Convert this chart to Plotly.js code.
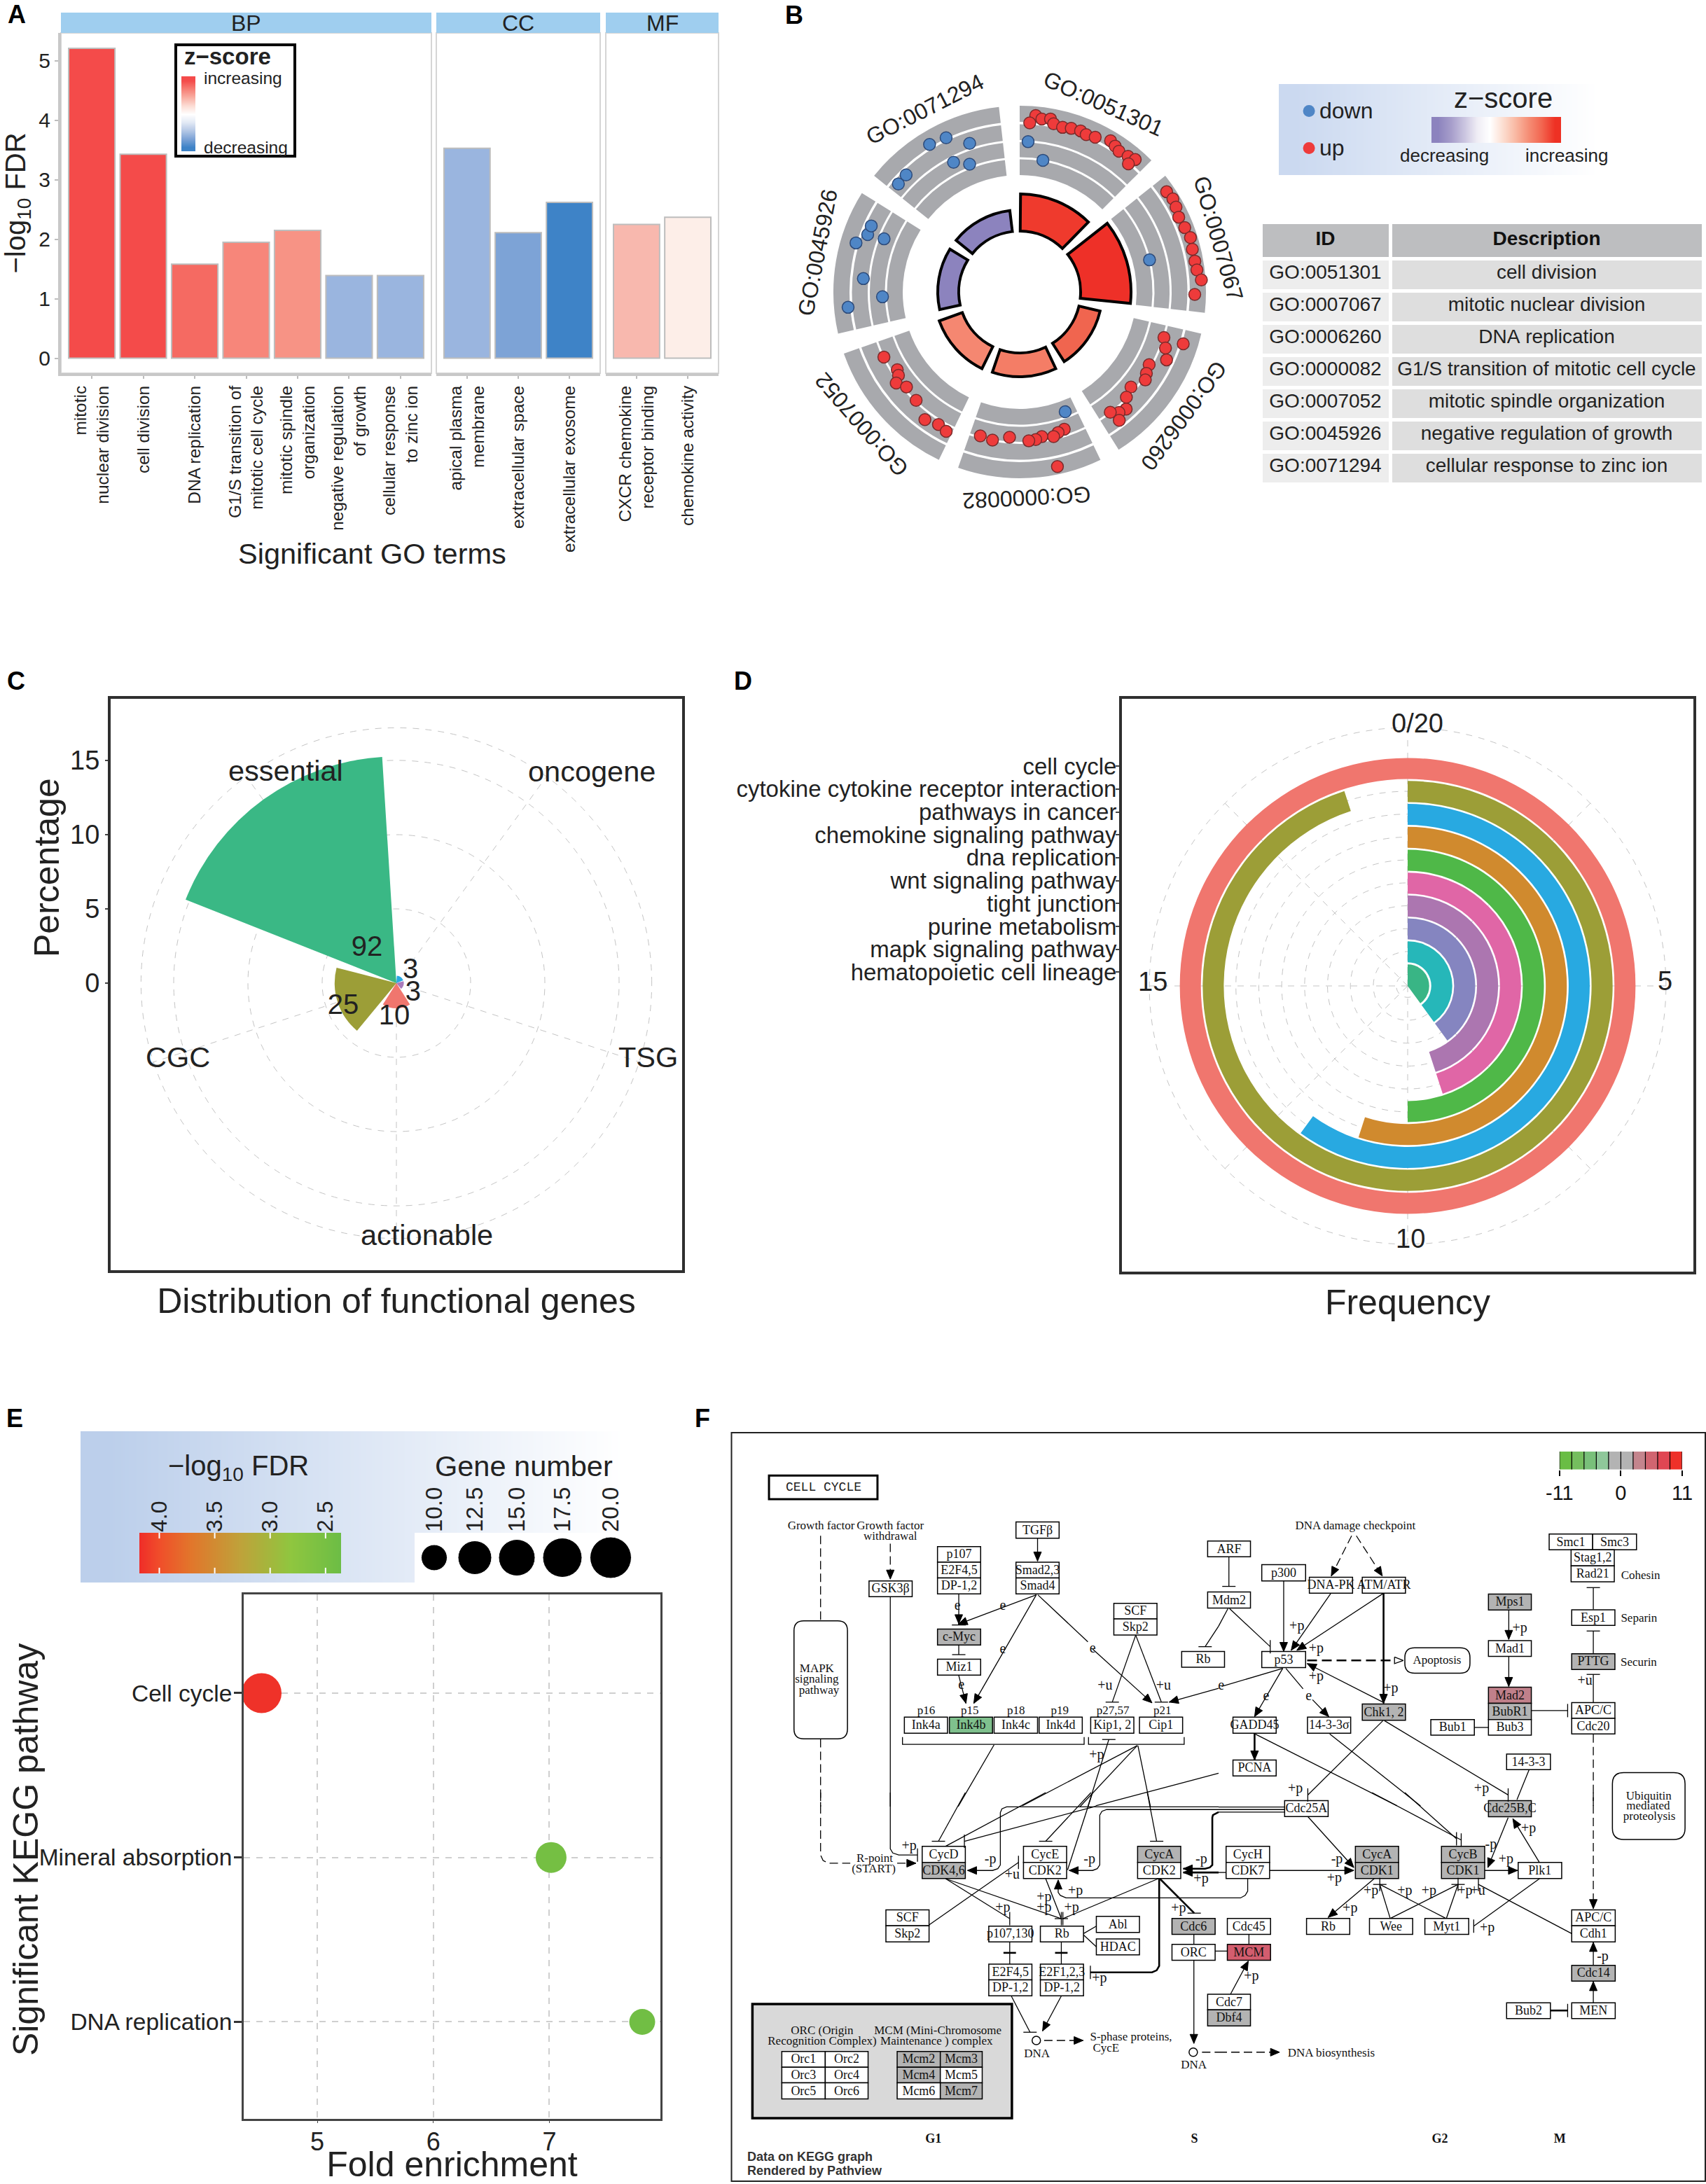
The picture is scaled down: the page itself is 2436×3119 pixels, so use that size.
<!DOCTYPE html>
<html><head><meta charset="utf-8"><script src="https://cdn.plot.ly/plotly-3.0.1.min.js"></script>
<style>html,body{margin:0;padding:0;background:#fff}#g{width:2436px;height:3119px}</style></head>
<body><div id="g"></div>
<script>
// ---------- Panel A data
const catBP=["mitotic<br>nuclear division","cell division","DNA replication","G1/S transition of<br>mitotic cell cycle","mitotic spindle<br>organization","negative regulation<br>of growth","cellular response<br>to zinc ion"];
const catCC=["apical plasma<br>membrane","extracellular space","extracellular exosome"];
const catMF=["CXCR chemokine<br>receptor binding","chemokine activity"];
const fdrBP=[5.21,3.43,1.58,1.95,2.15,1.39,1.39];
const fdrCC=[3.53,2.11,2.62];
const fdrMF=[2.25,2.37];
const colBP=["#F44B4A","#F44B4A","#F56A62","#F7867A","#F79385","#9AB5DF","#9AB5DF"];
const colCC=["#9AB5DF","#7DA3D6","#3E83C7"];
const colMF=["#F8B8AE","#FDEEE8"];
const zLegendA=["#3E83C7","#7DA3D6","#B5C8E6","#E4EAF5","#FFFFFF","#FCDDD5","#F9AFA3","#F67F75","#F44B4A"];
// ---------- Panel B data
const goIds=["GO:0051301","GO:0007067","GO:0006260","GO:0000082","GO:0007052","GO:0045926","GO:0071294"];
const goDesc=["cell division","mitotic nuclear division","DNA replication","G1/S transition of mitotic cell cycle","mitotic spindle organization","negative regulation of growth","cellular response to zinc ion"];
const goMid=[22.5,73.9,125.4,176.8,228.2,279.6,331.1];
const goInnerOuter=[140,159,118,121,122,117,117];
const goInnerColor=["#EF3A2D","#EE3028","#F0654F","#F47D66","#F58771","#8C83BE","#8C83BE"];
const goLabelTheta=[23.9,75,126.9,178,229.9,281,332.6];
const goLabelAngle=[24,74,126,177,229,-79,-27];
const upTheta=[5.2,3.4,7.3,10.1,11.4,14.6,17.5,20.7,22.9,26,31,33.2,35.2,38.6,41.1,40.3,55.7,58.7,61.5,64.8,68.7,72.3,76.1,80,82.9,86.2,90.8,107.6,107.5,111,114.8,119.3,122.7,125,130.5,134.6,137.7,140.5,143,142.2,162,164.7,166.8,171.3,173.8,176.5,184,190.4,195.3,167.8,244.4,237.6,235.5,233.6,230,223.7,216.6,211.5,207.8];
const upR=[253,242,249,251,245,243,245,246,244,246,252,249,246,248,251,240,254,256,254,251,253,256,254,254,255,260,250,245,216,223,231,212,215,219,209,214,226,223,215,232,206,208,212,209,212,213,208,215,213,255,215,207,210,219,211,214,227,222,225];
const downTheta=[3.2,10,76.1,159.2,264.9,268,274.9,291.4,286.7,290.7,294,311.7,315.9,328.6,334.5,341.4,333,338.6];
const downR=[215,191,191,183,246,196,224,208,244,232,232,232,233,247,244,224,208,196];
const legendBColors=["#8C83BE","#A79ECB","#C9C3DF","#EFEDF5","#FFFFFF","#FCDDD0","#F9B8A2","#F58C74","#F26650","#EE3124"];
// ---------- Panel C data
const funcCats=["essential","oncogene","TSG","actionable","CGC"];
const funcPct=[15.27,0.5,0.5,1.7,4.16];
const funcCount=[92,3,3,10,25];
const funcTheta=[324,36,108,180,252];
const funcColors=["#3AB885","#28A9E1","#A97BBB","#F0766E","#9C9E37"];
const countR=[3.04,1.24,1.33,2.3,3.93];
const countTheta=[319.4,50,122,183.5,246];
// ---------- Panel D data
const pathways=["cell cycle","cytokine cytokine receptor interaction","pathways in cancer","chemokine signaling pathway","dna replication","wnt signaling pathway","tight junction","purine metabolism","mapk signaling pathway","hematopoietic cell lineage"];
const pathwayFreq=[20,19,12,11,10,9,9,8,8,8];
const pathwayColors=["#F0766E","#9C9E37","#28A9E1","#D08A2E","#4FB848","#E066A6","#AC76B0","#8585C0","#26B7B9","#39B585"];
// ---------- Panel E data
const keggNames=["Cell cycle","Mineral absorption","DNA replication"];
const keggFold=[4.52,7.015,7.8];
const keggFdr=[4.15,2.48,2.42];
const keggSize=[57,44,37];
const legendGene=["10.0","12.5","15.0","17.5","20.0"];
const legendGeneSize=[37,48,52,56,59];
const legendGenePos=[28,86,146,211,280];
const fdrStops=[[0,"#6CBD45"],[0.25,"#8FC63F"],[0.5,"#BFA23A"],[0.75,"#E2752B"],[0.9,"#F04E2A"],[1,"#EF2D29"]];
const fdrBarValues=[4.18,3.9,3.6,3.3,3.0,2.7,2.36];
const fdrBarTicks=[4,3.5,3,2.5];
// ---------- Panel F diagram (node boxes and edges on the four zoom sheets)
const sheets={a:[1040,2040,2.24,2.904],b:[1740,2040,2.237,2.904],c:[1040,2560,2.24,2.805],d:[1740,2560,2.237,2.805]};
const G="#B3B3B3";
const nodesF=[
["a","TGFβ",920,388,1058,455],["a","p107",669,490,807,555],["a","E2F4,5",669,555,807,620],["a","DP-1,2",669,620,807,686],
["a","Smad2,3",920,555,1058,620],["a","Smad4",920,620,1058,686],["a","GSK3β",450,632,588,698],["a","SCF",1233,725,1371,790],["a","Skp2",1233,790,1371,857],
["a","c-Myc",669,832,807,898,G],["a","Miz1",669,957,807,1023],["a","Ink4a",563,1197,701,1264],["a","Ink4b",707,1197,845,1264,"#7FC08D"],["a","Ink4c",850,1197,989,1264],["a","Ink4d",994,1197,1132,1264],
["a","Kip1, 2",1159,1197,1297,1264],["a","Cip1",1315,1197,1453,1264],["a","Rb",1450,925,1587,990],["a","Mdm2",1533,678,1670,745],["a","ARF",1533,467,1670,532],
["b","p300",138,565,278,632],["b","DNA-PK",290,617,428,683],["b","ATM/ATR",459,617,597,683],["b","p53",138,925,278,992],["b","GADD45",46,1197,184,1264],["b","14-3-3σ",284,1197,422,1264],
["b","Chk1, 2",459,1143,597,1210,G],["b","PCNA",46,1375,184,1441],["b","14-3-3",920,1350,1060,1415],["b","Mps1",862,687,999,753,G],["b","Mad1",862,880,999,945],["b","Mad2",862,1073,999,1140,"#C0808A"],["b","BubR1",862,1140,999,1207,G],["b","Bub3",862,1207,999,1272],["b","Bub1",678,1207,817,1272],
["b","Smc1",1056,438,1195,503],["b","Smc3",1195,438,1335,503],["b","Stag1,2",1126,503,1264,570],["b","Rad21",1126,570,1264,636],["b","Esp1",1128,752,1266,817],["b","PTTG",1128,934,1266,1000,G],["b","APC/C",1128,1137,1266,1202],["b","Cdc20",1128,1202,1266,1267],
["c","CycD",620,215,758,280],["c","CDK4,6",620,280,758,344,G],["c","CycE",944,215,1082,280],["c","CDK2",944,280,1082,344],["c","CycA",1309,215,1447,280,G],["c","CDK2",1309,280,1447,344],
["c","SCF",504,470,642,534],["c","Skp2",504,534,642,598],["c","p107,130",833,535,971,598],["c","Rb",998,535,1136,598],["c","Abl",1177,496,1315,560],["c","HDAC",1177,586,1315,650],
["c","E2F4,5",833,687,971,750],["c","DP-1,2",833,750,971,814],["c","E2F1,2,3",998,687,1136,750],["c","DP-1,2",998,750,1136,814],["c","Cdc6",1419,504,1557,568,G],["c","ORC",1419,608,1557,672],["c","Cdc7",1533,808,1670,870],["c","Dbf4",1533,870,1670,935,G],
["d","Cdc25A",211,32,350,96],["d","Cdc25B,C",862,32,999,97,G],["d","CycH",24,215,163,280],["d","CDK7",24,280,163,344],["d","CycA",437,215,575,280,G],["d","CDK1",437,280,575,344,G],["d","CycB",712,215,850,280,G],["d","CDK1",712,280,850,344,G],["d","Plk1",957,280,1096,344],
["d","Rb",281,504,419,568],["d","Wee",482,504,620,568],["d","Myt1",659,504,799,568],["d","Cdc45",28,504,166,568],["d","MCM",28,608,166,672,"#D35D6E"],["d","APC/C",1128,470,1267,534],["d","Cdh1",1128,534,1267,598],["d","Cdc14",1128,692,1267,755,G],["d","MEN",1128,842,1267,905],["d","Bub2",920,842,1060,905],
["c","Orc1",171,1037,310,1100],["c","Orc2",310,1037,447,1100],["c","Orc3",171,1100,310,1163],["c","Orc4",310,1100,447,1163],["c","Orc5",171,1163,310,1227],["c","Orc6",310,1163,447,1227],
["c","Mcm2",540,1037,678,1100,G],["c","Mcm3",678,1037,812,1100,G],["c","Mcm4",540,1100,678,1163,G],["c","Mcm5",678,1100,812,1163],["c","Mcm6",540,1163,678,1227],["c","Mcm7",678,1163,812,1227,G]
];
const edgesF=[
["a","d",295,445,295,797],["a","d",295,1288,295,1568],["c","d",295,0,295,250,303,272,320,283,390,283],["c","da",540,283,600,283],
["a","da",518,478,518,625],["a","l",518,698,518,1568],["c","t",518,0,518,225,526,242,545,250,605,250],
["a","a",989,455,989,550],["a","a",737,686,737,810],["a","l",715,815,760,815],["a","a",985,690,735,812],["a","a",985,690,785,1140],["a","l",990,690,1150,885],["a","a",1165,915,1355,1138],
["a","t",737,898,737,938],["a","a",737,1025,760,1140],["a","t",1303,857,1228,1135],["a","t",1303,857,1385,1135],["a","a",1568,1078,1410,1135],
["a","l",557,1280,557,1310,1138,1310,1138,1280],["a","l",1152,1280,1152,1310,1458,1310,1458,1280],
["a","l",850,1312,735,1568],["c","t",758,0,672,195],["a","t",1150,1568,1217,1290],["c","l",1085,310,1165,0],
["a","l",1308,1315,1125,1568],["c","t",1160,0,1015,195],["a","l",1308,1315,940,1565],["c","l",1015,0,695,215],["a","l",1310,1315,1350,1568],["c","t",1340,0,1370,195],
["a","l",1568,1430,1175,1565],["c","t",1175,55,755,195],["a","t",1568,820,1525,905],
["b","l",30,747,0,820],["b","l",205,995,10,1070],["b","t",33,532,33,655],["b","t",35,747,165,905],["b","a",208,632,208,925],["b","a",358,685,232,920],["b","a",525,685,250,920],
["b","da",425,445,360,612],["b","da",440,445,523,612],["b","ab",527,685,527,1140],["b","db",283,962,562,962],["b","l",562,948,590,962,562,975,562,948],["b","a",525,1135,283,975],
["b","a",205,995,115,1195],["b","l",215,995,270,1080],["b","a",300,1125,352,1195],["b","ab",115,1265,115,1375],["b","l",118,1268,570,1565],["d","t",490,0,775,190],["b","l",355,1267,645,1565],["d","t",595,0,760,185],
["b","t",525,1212,285,1520],["b","t",530,1212,925,1520],["b","l",992,1415,953,1540],["b","a",927,753,927,875],["b","a",927,945,927,1070],["b","t",999,1170,1115,1170],["b","l",817,1240,862,1240],
["b","t",1197,750,1197,660],["b","t",1197,933,1197,840],["b","t",1197,1137,1197,1020],["b","d",1197,1268,1197,1568],["d","da",1197,0,1197,465],
["c","a",1568,57,890,57,875,65,870,80,870,290,862,305,845,312,765,312],["c","a",1568,68,1210,68,1195,75,1188,90,1188,290,1180,305,1165,312,1090,312],["c","ab",1568,78,1550,90,1548,100,1548,290,1540,300,1525,305,1455,305],
["d","l",0,58,212,58],["d","l",0,68,212,68],["d","l",0,78,212,78],["d","a",285,96,432,300],["d","a",163,312,432,312],["d","l",0,320,24,320],["c","ab",1568,320,1455,320],
["d","l",93,344,93,395,85,412,70,422,0,422],["c","a",1568,422,1080,422,1062,412,1055,400,1055,350],
["d","a",925,100,860,300],["d","a",1025,280,940,105],["d","a",850,312,955,312],["d","a",497,345,350,500],["d","t",548,503,515,368],["d","t",550,503,765,368],["d","t",725,503,515,368],["d","t",728,503,765,368],["d","t",1128,565,830,368],["d","t",1025,345,815,535],
["d","l",97,568,97,608],["d","a",38,808,95,675],["d","l",0,635,28,635],["c","l",1557,635,1568,635],["d","a",1197,692,1197,600],["d","a",1197,842,1197,757],["d","tb",1060,873,1115,873],
["c","t",642,530,928,280],["c","t",695,345,900,505],["c","t",695,345,1065,505],["c","t",1015,345,1065,505],["c","t",1375,345,1070,505],["c","tb",1380,345,1490,483],["c","tb",1378,345,1378,695,1370,712,1355,720,1158,720],
["c","l",1136,565,1177,535],["c","l",1136,570,1177,618],["c","l",900,598,900,687],["c","lb",880,642,920,642],["c","l",1065,598,1065,687],["c","lb",1045,642,1085,642],
["c","t",905,815,965,960],["c","a",1065,815,1005,955],["c","da",1010,993,1135,993],["c","l",1489,568,1489,608],["c","a",1489,672,1489,1005],["c","d",1515,1040,1568,1040],["d","da",0,1040,195,1040]
];
const textF=[
["a","Growth factor",297,405],["a","Growth factor",518,405],["a","withdrawal",518,450],["a","p16",633,1172],["a","p15",772,1172],["a","p18",920,1172],["a","p19",1060,1172],["a","p27,57",1230,1172],["a","p21",1388,1172],
["a","MAPK",283,997],["a","signaling",283,1043],["a","pathway",290,1088],
["b","DNA damage checkpoint",437,405],["b","Apoptosis",698,962],["b","Cohesin",1348,612],["b","Separin",1343,790],["b","Securin",1342,972],["b","Ubiquitin",1374,1527],["d","mediated",1372,55],["d","proteolysis",1376,98],
["c","R-point",468,265],["c","(START)",465,307],["c","ORC (Origin",300,955],["c","Recognition Complex)",300,997],["c","MCM (Mini-Chromosome",670,955],["c","Maintenance ) complex",666,997],["c","DNA",987,1047],["c","DNA",1489,1093],["c","S-phase proteins,",1288,980],["c","CycE",1208,1025],
["d","DNA biosynthesis",360,1045]
];
const markF=[
["a","e",733,738],["a","e",878,738],["a","e",878,917],["a","e",1165,915],["a","e",745,1065],["a","+u",1205,1070],["a","+u",1392,1070],["a","+p",1178,1355],
["b","+p",250,823],["b","+p",312,915],["b","+p",312,1030],["b","+p",550,1080],["b","+p",962,830],["b","+u",1170,1048],["b","+p",245,1495],["b","+p",840,1495],["b","e",8,1070],["b","e",152,1113],["b","e",288,1113],
["c","+p",578,215],["c","-p",838,270],["c","+u",908,330],["c","-p",1155,270],["c","-p",1513,270],["c","+p",1512,347],["c","+p",1110,395],["c","+p",1010,420],["c","+p",1010,462],["c","+p",878,462],["c","+p",1098,462],["c","+p",1440,467],["c","+p",1187,745],
["d","-p",378,270],["d","+p",370,345],["d","+p",487,395],["d","+p",595,395],["d","+p",672,395],["d","+p",787,395],["d","+u",828,395],["d","+p",420,465],["d","-p",870,210],["d","+p",918,268],["d","+p",990,145],["d","+p",858,543],["d","+p",105,738],["d","-p",1227,658]
];
const phases=[["c","G1",656,1390],["c","S",1491,1390],["d","G2",707,1390],["d","M",1090,1390]];
const rateColors=["#6ABD45","#75BE5E","#79C07A","#8FC79A","#B3B3B3","#B3B3B3","#C4858D","#D16570","#E04653","#EE3129"];

// ---------- helpers
const W=2436,H=3119,SANS="Liberation Sans",SERIF="Liberation Serif",INK="#222";
const px=(x)=>x/W, py=(y)=>1-y/H;
const layout={width:W,height:H,margin:{l:0,r:0,t:0,b:0},paper_bgcolor:"#fff",plot_bgcolor:"rgba(0,0,0,0)",showlegend:false,font:{family:SANS,color:INK},shapes:[],annotations:[],hovermode:false};
const traces=[];
let axN=0;
function axes(box,xo,yo){axN++;const s=axN===1?"":axN;
 const base={showgrid:false,zeroline:false,showticklabels:false,ticks:"",showline:false};
 layout["xaxis"+s]=Object.assign({},base,{domain:[px(box[0]),px(box[2])],anchor:"y"+s},xo);
 layout["yaxis"+s]=Object.assign({},base,{domain:[py(box[3]),py(box[1])],anchor:"x"+s},yo);
 return {xaxis:"x"+s,yaxis:"y"+s};}
function ann(x,y,text,size,o){o=o||{};layout.annotations.push({xref:"paper",yref:"paper",x:px(x),y:py(y),text,showarrow:false,xanchor:o.anchor||"center",yanchor:"middle",textangle:o.angle||0,font:{size,family:o.family||SANS,color:o.color||INK}});}
function rectP(b,o){layout.shapes.push(Object.assign({type:"rect",xref:"paper",yref:"paper",x0:px(b[0]),x1:px(b[2]),y0:py(b[3]),y1:py(b[1]),line:{width:0}},o));}
function heat(ax,z,stops,o){traces.push(Object.assign({type:"heatmap",z,colorscale:stops,showscale:false,hoverinfo:"skip",zsmooth:"best"},ax,o||{}));}
const stopsOf=(c)=>c.map((k,i)=>[i/(c.length-1),k]);
function gradient(box,c0,c1){const ax=axes(box,{range:[-0.5,9.5]},{range:[0,1]});
 heat(ax,[[0,1,2,3,4,5,6,7,8,9]],[[0,c0],[1,c1]],{x:[0,1,2,3,4,5,6,7,8,9],y0:0.5,dy:1});return ax;}

// ---------- backgrounds first, so they stack under the legends
const bgB=gradient([1826,120,2305,250],"#CBD9F0","#FFFFFF");
traces.push(Object.assign({type:"scatter",mode:"markers",x:[0.4,0.4],y:[0.704,0.296],marker:{size:17,opacity:1,color:["#4F86C6","#EE3B3B"]},cliponaxis:false},bgB));
gradient([115,2044,931,2260],"#BCCFEB","#FFFFFF");

// ---------- Panel A
const yA={range:[-0.253,5.47],tickvals:[0,1,2,3,4,5],showticklabels:true,tickfont:{size:30},ticks:"outside",ticklen:5,tickcolor:"#BDBDBD",tickwidth:2};
function panelA(box,cats,vals,cols,first,name){
 const ax=axes(box,{range:[0.4,cats.length+0.6],tickvals:cats.map((c,i)=>i+1),ticktext:cats,showticklabels:true,tickangle:-90,tickfont:{size:24.5},ticks:"outside",ticklen:4,tickcolor:"#BDBDBD",tickwidth:2,showline:true,linecolor:"#C8C8C8",linewidth:4},
  first?Object.assign({},yA,{showline:true,linecolor:"#C8C8C8",linewidth:4,title:{text:"−log<sub>10</sub> FDR",font:{size:40},standoff:12}}):{range:yA.range});
 traces.push(Object.assign({type:"bar",x:cats.map((c,i)=>i+1),y:vals,width:0.9,marker:{color:cols,line:{color:"#BDBDBD",width:2}},hoverinfo:"skip"},ax));
 rectP([box[0],box[1],box[2],box[3]],{line:{color:"#D5D5D5",width:2},layer:"below"});
 rectP([box[0],18,box[2],47],{fillcolor:"#9FCEEF",layer:"below"});
 ann((box[0]+box[2])/2,33,name,32);}
panelA([87,47,616,533],catBP,fdrBP,colBP,true,"BP");
panelA([623,47,857,533],catCC,fdrCC,colCC,false,"CC");
panelA([865,47,1026,533],catMF,fdrMF,colMF,false,"MF");
ann(531,790,"Significant GO terms",41.5);
rectP([251,64,421,223],{line:{color:"#000",width:4},fillcolor:"#fff",layer:"below"});
ann(325,80,"<b>z−score</b>",33);
ann(289,111,"increasing",24.5,{anchor:"left"});ann(289,210,"decreasing",24.5,{anchor:"left"});
const axLA=axes([259,109,279,216],{range:[0,1]},{range:[-0.5,8.5]});
heat(axLA,zLegendA.map((c,i)=>[i]),stopsOf(zLegendA),{x0:0.5,dx:1,y:zLegendA.map((c,i)=>i)});

// ---------- Panel B
const cB=[1456,417],RB=280;
const sectorsB=goMid;
const bandBase=[167,192.5,217,243],bandLen=[22.5,21.5,22.5,23];
layout.polar={radialaxis:{visible:false,range:[0,RB]},angularaxis:{visible:false,direction:"clockwise",rotation:90},bgcolor:"rgba(0,0,0,0)",barmode:"overlay",domain:{x:[px(cB[0]-RB),px(cB[0]+RB)],y:[py(cB[1]+RB),py(cB[1]-RB)]}};
bandBase.forEach((b,i)=>traces.push({type:"barpolar",subplot:"polar",theta:sectorsB,width:sectorsB.map(()=>45),base:sectorsB.map(()=>b),r:sectorsB.map(()=>bandLen[i]),marker:{color:"#A8A9AD",line:{width:0}},hoverinfo:"skip"}));
traces.push({type:"barpolar",subplot:"polar",theta:sectorsB,width:sectorsB.map(()=>44),base:sectorsB.map(()=>87),r:goInnerOuter.map(v=>v-87),marker:{color:goInnerColor,line:{color:"#000",width:4}},hoverinfo:"skip"});
traces.push({type:"scatterpolar",subplot:"polar",mode:"markers",theta:upTheta,r:upR,marker:{size:17,opacity:1,color:"#EE3B3B",line:{color:"#7A2A2A",width:1.5}},hoverinfo:"skip"});
traces.push({type:"scatterpolar",subplot:"polar",mode:"markers",theta:downTheta,r:downR,marker:{size:17,opacity:1,color:"#4F86C6",line:{color:"#2C4A7A",width:1.5}},hoverinfo:"skip"});
goIds.forEach((g,i)=>{const t=goLabelTheta[i]*Math.PI/180;ann(cB[0]+294*Math.sin(t),cB[1]-294*Math.cos(t),g,32,{angle:goLabelAngle[i]});});
ann(1882,158,"down",32,{anchor:"left"});ann(1882,211,"up",32,{anchor:"left"});
ann(2146,140,"z−score",40);ann(2062,222,"decreasing",26);ann(2237,222,"increasing",26);
const axLB=axes([2044,167,2229,204],{range:[-0.5,9.5]},{range:[0,1]});
heat(axLB,[legendBColors.map((c,i)=>i)],stopsOf(legendBColors),{x:legendBColors.map((c,i)=>i),y0:0.5,dy:1});
traces.push({type:"table",domain:{x:[px(1800),px(2432)],y:[py(694),py(317)]},columnwidth:[185,447],
 header:{values:["<b>ID</b>","<b>Description</b>"],fill:{color:"#BDBEC0"},line:{color:"#fff",width:5},align:"center",height:52,font:{size:28,color:"#111",family:SANS}},
 cells:{values:[goIds,goDesc.map(s=>s.replace(/ /g,"\u00A0"))],fill:{color:goIds.map((g,i)=>i%2?"#DEDEDE":"#EDEDED")},line:{color:"#fff",width:5},align:"center",height:46,font:{size:28,color:"#222",family:SANS}}});

// ---------- Panel C
const frameStyle={showline:true,mirror:true,linecolor:"#2F2F2F",linewidth:4};
const cC=[566,1404],uC=21.2,outerC=17.2;
const axC=axes([158,998,974,1814],Object.assign({},frameStyle,{range:[-19.25,19.25],title:{text:"Distribution of functional genes",font:{size:50},standoff:24}}),
 Object.assign({},frameStyle,{range:[-19.34,19.15],tickvals:[0,5,10,15],showticklabels:true,tickfont:{size:38},ticks:"outside",ticklen:4,tickwidth:2}));
traces.push(Object.assign({type:"scatter",mode:"markers",x:[0,0,0,0],y:[0,5,10,15],marker:{opacity:0},hoverinfo:"skip"},axC));
const gridPolar={griddash:"dash",gridcolor:"#C4C4C4",gridwidth:1.2};
const rC=(outerC+0.1)*uC;
layout.polar2={domain:{x:[px(cC[0]-rC),px(cC[0]+rC)],y:[py(cC[1]+rC),py(cC[1]-rC)]},bgcolor:"rgba(0,0,0,0)",barmode:"overlay",
 radialaxis:Object.assign({range:[0,outerC+0.1],tickvals:[5,10,15,outerC],showticklabels:false,ticks:"",showline:false},gridPolar),
 angularaxis:Object.assign({direction:"clockwise",rotation:90,tickvals:funcTheta,showticklabels:false,ticks:"",showline:false},gridPolar)};
traces.push({type:"barpolar",subplot:"polar2",theta:funcTheta,r:funcPct,width:funcTheta.map(()=>64.8),marker:{color:funcColors,line:{width:0}},hoverinfo:"skip"});
traces.push({type:"scatterpolar",subplot:"polar2",mode:"text",theta:countTheta,r:countR,text:funcCount.map(String),textposition:"middle center",textfont:{size:40,color:INK},cliponaxis:false,hoverinfo:"skip"});
[[408,1101],[845,1102],[925,1509],[609,1764],[254,1509]].forEach((p,i)=>ann(p[0],p[1],funcCats[i],41.5));
ann(67,1239,"Percentage",50,{angle:-90});

// ---------- Panel D
const cD=[2010,1408],uD=32.7,outerD=11.28;
const axD=axes([1602,998,2418,1816],Object.assign({},frameStyle,{range:[-12.48,12.48],title:{text:"Frequency",font:{size:50},standoff:24}}),
 Object.assign({},frameStyle,{range:[-12.48,12.54],tickvals:pathways.map((p,i)=>9-i+0.6),ticktext:pathways,showticklabels:true,tickfont:{size:33},ticks:"outside",ticklen:5,tickwidth:2,ticklabelstandoff:-8}));
traces.push(Object.assign({type:"scatter",mode:"markers",x:pathways.map(()=>0),y:pathways.map((p,i)=>9-i+0.6),marker:{opacity:0},hoverinfo:"skip"},axD));
const rD=(outerD+0.05)*uD;
layout.polar3={domain:{x:[px(cD[0]-rD),px(cD[0]+rD)],y:[py(cD[1]+rD),py(cD[1]-rD)]},bgcolor:"rgba(0,0,0,0)",barmode:"overlay",
 radialaxis:Object.assign({range:[0,outerD+0.05],tickvals:[0.5,1.5,2.5,3.5,4.5,5.5,6.5,7.5,8.5,9.5,outerD],showticklabels:false,ticks:"",showline:false},gridPolar),
 angularaxis:Object.assign({direction:"clockwise",rotation:90,tickvals:[0,45,90,135,180,225,270,315],showticklabels:false,ticks:"",showline:false},gridPolar)};
traces.push({type:"barpolar",subplot:"polar3",theta:pathwayFreq.map(f=>f*9),width:pathwayFreq.map(f=>f*18),base:pathways.map((p,i)=>i===9?0:9-i+0.03),r:pathways.map((p,i)=>i===9?0.94:0.92),marker:{color:pathwayColors,line:{width:0}},hoverinfo:"skip"});
ann(2024,1033,"0/20",38);ann(2377,1401,"5",38);ann(2014,1769,"10",38);ann(1646,1402,"15",38);

// ---------- Panel E
const axE=axes([348,2277,943,3026],{range:[4.366,7.957],tickvals:[5,6,7],showticklabels:true,tickfont:{size:36},ticks:"outside",ticklen:3,ticklabelstandoff:-4,showline:true,mirror:true,linecolor:"#444",linewidth:3,showgrid:true,griddash:"dash",gridcolor:"#CFCFCF",gridwidth:1.5,title:{text:"Fold enrichment",font:{size:50},standoff:8}},
 {type:"category",categoryorder:"array",categoryarray:keggNames,range:[2.59,-0.6],showticklabels:true,tickfont:{size:33.5},ticks:"outside",ticklen:11,tickwidth:3,tickcolor:"#333",ticklabelstandoff:-4,showline:true,mirror:true,linecolor:"#444",linewidth:3,showgrid:true,griddash:"dash",gridcolor:"#CFCFCF",gridwidth:1.5});
traces.push(Object.assign({type:"scatter",mode:"markers",x:keggFold,y:keggNames,cliponaxis:false,marker:{size:keggSize,opacity:1,color:keggFdr,colorscale:fdrStops,cmin:2.36,cmax:4.18,line:{width:0}},hoverinfo:"skip"},axE));
ann(37,2642,"Significant KEGG pathway",50,{angle:-90});
ann(340,2096,"−log<sub>10</sub> FDR",40);ann(748,2093,"Gene number",41.5);
const axEbar=axes([199,2189,487,2247],{side:"top",range:[4.18,2.36],tickvals:fdrBarTicks,ticktext:["4.0","3.5","3.0","2.5"],showticklabels:true,tickangle:-90,tickfont:{size:32}},{range:[0,1]});
heat(axEbar,[fdrBarValues],fdrStops,{x:fdrBarValues,y0:0.5,dy:1,zmin:2.36,zmax:4.18});
const tickX=[],tickY=[];fdrBarTicks.forEach(v=>{tickX.push(v,v,null,v,v,null);tickY.push(1,0.86,null,0,0.14,null);});
traces.push(Object.assign({type:"scatter",mode:"lines",x:tickX,y:tickY,line:{color:"#fff",width:2},hoverinfo:"skip"},axEbar));
const axEsize=axes([592,2189,907,2260],{side:"top",range:[0,315],tickvals:legendGenePos,ticktext:legendGene,showticklabels:true,tickangle:-90,tickfont:{size:33}},{range:[0,1]});
heat(axEsize,[[0,0],[0,0]],[[0,"#fff"],[1,"#fff"]],{x:[0,315],y:[0,1],zsmooth:false,zmin:0,zmax:1,xgap:0,ygap:0});
traces.push(Object.assign({type:"scatter",mode:"markers",x:legendGenePos,y:legendGene.map(()=>0.5),marker:{size:legendGeneSize,opacity:1,color:"#000"},hoverinfo:"skip"},axEsize));

// ---------- Panel F
rectP([1044.5,2046,2435,3115],{line:{color:"#222",width:2}});
const axF=axes([1044,2046,2436,3116],{range:[1044,2436]},{range:[3116,2046]});
const P=(q,x,y)=>{const s=sheets[q];return [s[0]+x/s[2],s[1]+y/s[3]];};
function shapeF(o){layout.shapes.push(Object.assign({xref:axF.xaxis,yref:axF.yaxis,layer:"below"},o));}
function boxF(a,b,fill,w){shapeF({type:"rect",x0:a[0],y0:a[1],x1:b[0],y1:b[1],fillcolor:fill||"#fff",line:{color:"#000",width:w||1.5}});}
function roundF(a,b,r){const [x0,y0]=a,[x1,y1]=b;shapeF({type:"path",path:`M${x0+r} ${y0}L${x1-r} ${y0}Q${x1} ${y0} ${x1} ${y0+r}L${x1} ${y1-r}Q${x1} ${y1} ${x1-r} ${y1}L${x0+r} ${y1}Q${x0} ${y1} ${x0} ${y1-r}L${x0} ${y0+r}Q${x0} ${y0} ${x0+r} ${y0}Z`,fillcolor:"#fff",line:{color:"#000",width:1.5}});}
boxF(P("c",77,847),P("c",907,1304),"#D9D9D9",3.5);
boxF(P("a",130,195),P("a",477,293),"#fff",3);
roundF(P("a",210,798),P("a",381,1287),14);
roundF(P("b",595,910),P("b",803,1015),14);
roundF(P("b",1258,1427),[P("b",1490,0)[0],P("d",0,188)[1]],16);
const nodeX=[],nodeY=[],nodeT=[];
nodesF.forEach(n=>{const a=P(n[0],n[2],n[3]),b=P(n[0],n[4],n[5]);boxF(a,b,n[6]);nodeX.push((a[0]+b[0])/2);nodeY.push((a[1]+b[1])/2+1);nodeT.push(n[1]);});
[P("c",985,993),P("c",1487,1040)].forEach(c=>shapeF({type:"circle",x0:c[0]-6,x1:c[0]+6,y0:c[1]-6,y1:c[1]+6,fillcolor:"#fff",line:{color:"#000",width:1.5}}));
const styles={thin:{w:1.3},thick:{w:2.6},dash:{w:1.3,dash:"12px,6px"},dashb:{w:2.6,dash:"14px,7px"}};
const seg={thin:[[],[]],thick:[[],[]],dash:[[],[]],dashb:[[],[]]},triX=[],triY=[];
edgesF.forEach(e=>{const q=e[0],t=e[1],pts=[];for(let i=2;i<e.length;i+=2)pts.push(P(q,e[i],e[i+1]));
 const k=t==="d"||t==="da"?"dash":t==="db"?"dashb":(t==="lb"||t==="ab"||t==="tb")?"thick":"thin";
 pts.forEach(p=>{seg[k][0].push(p[0]);seg[k][1].push(p[1]);});seg[k][0].push(null);seg[k][1].push(null);
 const a=pts[pts.length-2],b=pts[pts.length-1];
 if(t==="a"||t==="ab"||t==="da"){const L=Math.hypot(b[0]-a[0],b[1]-a[1])||1,ux=(b[0]-a[0])/L,uy=(b[1]-a[1])/L,l=13,h=5.5;
  triX.push(b[0],b[0]-ux*l-uy*h,b[0]-ux*l+uy*h,b[0],null);triY.push(b[1],b[1]-uy*l+ux*h,b[1]-uy*l-ux*h,b[1],null);}
 if(t==="t"||t==="tb"){const vert=Math.abs(b[1]-a[1])>=Math.abs(b[0]-a[0]),h=9.5;
  if(vert){seg.thin[0].push(b[0]-h,b[0]+h,null);seg.thin[1].push(b[1],b[1],null);}else{seg.thin[0].push(b[0],b[0],null);seg.thin[1].push(b[1]-h,b[1]+h,null);}}
});
Object.keys(seg).forEach(k=>traces.push(Object.assign({type:"scatter",mode:"lines",x:seg[k][0],y:seg[k][1],line:{color:"#000",width:styles[k].w,dash:styles[k].dash||"solid"},connectgaps:false,hoverinfo:"skip",cliponaxis:false},axF)));
traces.push(Object.assign({type:"scatter",mode:"lines",x:triX,y:triY,fill:"toself",fillcolor:"#000",line:{color:"#000",width:1},hoverinfo:"skip",cliponaxis:false},axF));
traces.push(Object.assign({type:"scatter",mode:"text",x:nodeX,y:nodeY,text:nodeT,textposition:"middle center",textfont:{family:SERIF,size:18,color:"#111"},hoverinfo:"skip",cliponaxis:false},axF));
const tp=textF.map(t=>P(t[0],t[2],t[3]));
traces.push(Object.assign({type:"scatter",mode:"text",x:tp.map(p=>p[0]),y:tp.map(p=>p[1]),text:textF.map(t=>t[1]),textposition:"middle center",textfont:{family:SERIF,size:17,color:"#111"},hoverinfo:"skip",cliponaxis:false},axF));
const mp=markF.map(t=>P(t[0],t[2],t[3]));
traces.push(Object.assign({type:"scatter",mode:"text",x:mp.map(p=>p[0]),y:mp.map(p=>p[1]),text:markF.map(t=>t[1]),textposition:"middle center",textfont:{family:SERIF,size:20,color:"#111"},hoverinfo:"skip",cliponaxis:false},axF));
const pp=phases.map(t=>P(t[0],t[2],t[3]));
traces.push(Object.assign({type:"scatter",mode:"text",x:pp.map(p=>p[0]),y:pp.map(p=>p[1]),text:phases.map(t=>"<b>"+t[1]+"</b>"),textposition:"middle center",textfont:{family:SERIF,size:18,color:"#111"},hoverinfo:"skip",cliponaxis:false},axF));
ann(1175.5,2124,"CELL CYCLE",18,{family:"Liberation Mono"});
ann(1065,3080,"<b>Data on KEGG graph</b>",18,{anchor:"left",color:"#333"});
ann(1065,3100,"<b>Rendered by Pathview</b>",18,{anchor:"left",color:"#333"});
// KEGG fold-change key
const rateMid=rateColors.map((c,i)=>-9.9+2.2*i),rateEdge=[-11,-8.8,-6.6,-4.4,-2.2,0,2.2,4.4,6.6,8.8,11];
const axFkey=axes([2226.8,2073,2402,2098.5],{range:[-11,11],tickvals:[-11,0,11],ticktext:["-11","0","11"],showticklabels:true,tickfont:{size:29,color:"#111"},ticks:"outside",ticklen:8,tickcolor:"#000",tickwidth:1.5},{range:[0,1]});
heat(axFkey,[rateColors.map((c,i)=>i)],stopsOf(rateColors),{x:rateMid,y0:0.5,dy:1,zsmooth:false});
const sepX=[],sepY=[];rateEdge.forEach(v=>{sepX.push(v,v,null);sepY.push(-0.33,1,null);});
traces.push(Object.assign({type:"scatter",mode:"lines",x:sepX,y:sepY,cliponaxis:false,line:{color:"#000",width:1.2},hoverinfo:"skip"},axFkey));

// ---------- Panel letters
[["A",24,21],["B",1134,22],["C",23,972],["D",1061,972],["E",21,2025],["F",1003,2025]].forEach(l=>ann(l[1],l[2],"<b>"+l[0]+"</b>",36,{color:"#000"}));

Plotly.newPlot("g",traces,layout,{displayModeBar:false,responsive:false});
</script></body></html>
